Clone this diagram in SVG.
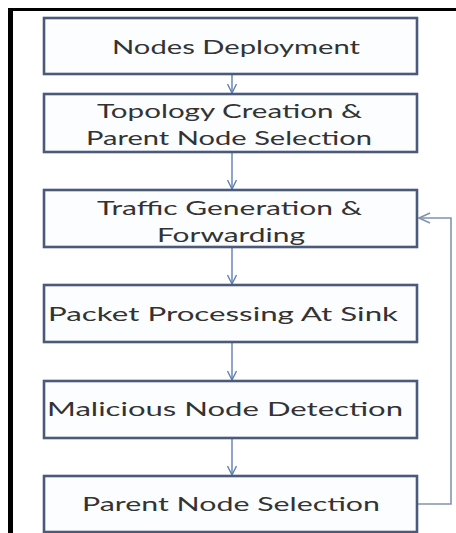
<svg xmlns="http://www.w3.org/2000/svg" width="456" height="533" viewBox="0 0 456 533">
  <defs>
    <style>
      .box { fill: #fbfdff; stroke: #4b5a7a; stroke-width: 2.6; }
      .lbl { font-family: Lato, "Open Sans", "Liberation Sans", sans-serif; font-size: 19px; fill: #333333; }
      .conn { fill: none; stroke: #5f7fb3; stroke-width: 1.4; }
      .loop { fill: none; stroke: #8393ad; stroke-width: 1.6; }
    </style>
    <marker id="arr" markerWidth="12" markerHeight="10" refX="10" refY="5" orient="auto" markerUnits="userSpaceOnUse">
      <path d="M1,0.5 L10,5 L1,9.5" fill="none" stroke="#5f7fb3" stroke-width="1.4"/>
    </marker>
    <marker id="arrL" markerWidth="14" markerHeight="12" refX="12" refY="6" orient="auto" markerUnits="userSpaceOnUse">
      <path d="M1,1 L12,6 L1,11" fill="none" stroke="#8393ad" stroke-width="1.6"/>
    </marker>
  </defs>
  <rect x="0" y="0" width="456" height="533" fill="#ffffff"/>
  <g id="frame">
    <rect x="8" y="8" width="448" height="3" fill="#000000"/>
    <rect x="8" y="8" width="5" height="525" fill="#000000"/>
  </g>
  <g id="connectors">
    <line class="conn" x1="232" y1="75" x2="232" y2="93" marker-end="url(#arr)"/>
    <line class="conn" x1="232" y1="153" x2="232" y2="189" marker-end="url(#arr)"/>
    <line class="conn" x1="232" y1="248" x2="232" y2="284" marker-end="url(#arr)"/>
    <line class="conn" x1="232" y1="343" x2="232" y2="380" marker-end="url(#arr)"/>
    <line class="conn" x1="232" y1="439" x2="232" y2="475" marker-end="url(#arr)"/>
    <polyline class="loop" points="418,504 451,504 451,218 419,218" marker-end="url(#arrL)"/>
  </g>
  <g id="n1">
    <rect class="box" x="44" y="18" width="373" height="56"/>
    <text class="lbl" x="112" y="54" textLength="248" lengthAdjust="spacingAndGlyphs">Nodes Deployment</text>
  </g>
  <g id="n2">
    <rect class="box" x="44" y="94" width="373" height="58"/>
    <text class="lbl" x="97" y="118" textLength="265" lengthAdjust="spacingAndGlyphs">Topology Creation &amp;</text>
    <text class="lbl" x="86" y="145" textLength="286" lengthAdjust="spacingAndGlyphs">Parent Node Selection</text>
  </g>
  <g id="n3">
    <rect class="box" x="44" y="190" width="373" height="57"/>
    <text class="lbl" x="97" y="215" textLength="265" lengthAdjust="spacingAndGlyphs">Traffic Generation &amp;</text>
    <text class="lbl" x="157" y="242" textLength="148" lengthAdjust="spacingAndGlyphs">Forwarding</text>
  </g>
  <g id="n4">
    <rect class="box" x="44" y="285" width="373" height="57"/>
    <text class="lbl" x="48" y="321" textLength="350" lengthAdjust="spacingAndGlyphs">Packet Processing At Sink</text>
  </g>
  <g id="n5">
    <rect class="box" x="44" y="381" width="373" height="57"/>
    <text class="lbl" x="47" y="416" textLength="356" lengthAdjust="spacingAndGlyphs">Malicious Node Detection</text>
  </g>
  <g id="n6">
    <rect class="box" x="44" y="476" width="373" height="56"/>
    <text class="lbl" x="82" y="511" textLength="298" lengthAdjust="spacingAndGlyphs">Parent Node Selection</text>
  </g>
</svg>
